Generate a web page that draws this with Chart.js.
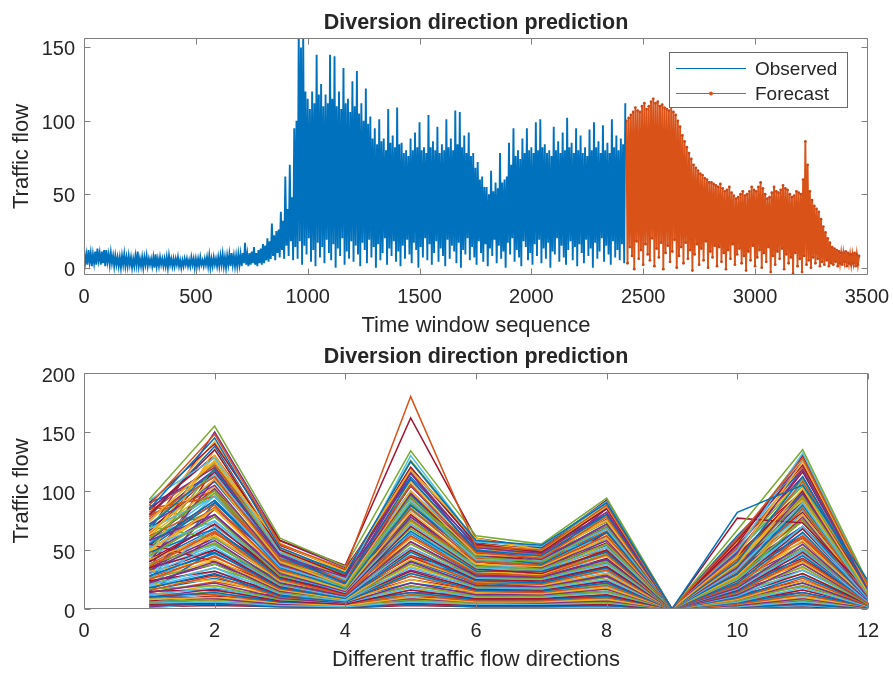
<!DOCTYPE html>
<html><head><meta charset="utf-8">
<script src="https://cdn.jsdelivr.net/npm/chart.js@4/dist/chart.umd.min.js"></script>
<style>
html,body{margin:0;padding:0;background:#fff;}
#wrapA{position:absolute;left:0;top:0;width:893px;height:338px;}
#wrapB{position:absolute;left:0;top:338px;width:893px;height:335px;}
canvas{display:block;}
</style></head><body>
<div id="wrapA"><canvas id="cA" width="893" height="338"></canvas></div>
<div id="wrapB"><canvas id="cB" width="893" height="335"></canvas></div>
<script>
// ---------- DATA ----------
const timeTicks = [0, 500, 1000, 1500, 2000, 2500, 3000, 3500];
const flowTicksTop = [0, 50, 100, 150];
const dirTicks = [0, 2, 4, 6, 8, 10, 12];
const flowTicksBottom = [0, 50, 100, 150, 200];

// Observed series: local peak readings every 10 time windows (x = 0..2420)
const obsPeaks = [
  10,9, 12,10, 9,11, 13,10, 11,12, 12,9, 10,8, 8,7, 7,8, 9,7,
  8,7, 6,8, 11,6, 7,7, 8,6, 6,7, 9,6, 7,6, 6,7, 8,6,
  6,6, 7,5, 5,6, 6,5, 7,6, 6,6, 7,5, 6,7, 8,6, 7,6,
  7,8, 9,7, 8,9, 10,8, 8,9, 9,10, 17,9, 10,11, 14,10, 12,13,
  16,15, 20,18, 30,22, 25,26, 38,32, 62,40, 70,48, 95,100, 160,150, 158,120,
  115,108, 120,112, 145,118, 125,110, 118,112, 145,115, 144,110, 120,108, 136,112, 115,106,
  127,110, 134,105, 112,100, 122,98, 103,88, 95,84, 101,86, 88,80, 108,85, 90,82,
  109,84, 85,78, 80,76, 88,80, 92,82, 99,80, 82,78, 104,82, 86,80, 96,78,
  84,80, 101,82, 88,80, 107,84, 106,82, 90,78, 92,76, 78,68, 72,60, 62,55,
  55,50, 66,52, 58,54, 78,58, 60,62, 85,70, 95,76, 80,74, 88,78, 95,80,
  82,78, 99,80, 101,82, 84,78, 80,76, 96,80, 86,78, 92,80, 102,82, 85,78,
  95,80, 90,78, 82,76, 94,80, 99,82, 86,78, 97,80, 85,78, 101,82, 90,80,
  88,84, 112
];
// Observed series: local trough readings, halfway between peaks (x = 5..2415)
const obsTroughs = [
  3,2,4,1,3,2,5,2,3,1,4,2,3,
  1,2,1,0,2,1,1,2,0,1,
  2,1,1,0,2,1,2,1,0,1,
  1,2,1,1,0,2,1,1,2,1,
  0,1,2,1,1,2,0,1,1,2,
  1,2,1,0,1,2,1,1,2,1,
  0,2,1,2,1,1,2,1,3,2,
  1,2,3,2,1,3,2,
  3,5,4,6,8,5,10,7,12,6,15,8,18,5,14,
  6,18,2,15,9,20,4,12,1,17,
  7,14,3,19,10,5,16,0,13,8,
  20,2,11,6,18,4,15,9,1,17,
  12,3,19,7,14,0,16,5,10,20,
  2,13,8,18,4,11,1,15,6,19,
  9,3,17,12,0,14,7,20,5,16,
  2,10,18,4,13,8,1,19,6,15,
  11,3,17,0,12,9,20,5,14,7,
  2,18,10,4,16,1,13,8,19,3,
  15,6,11,0,17,9,20,4,12,7,
  1,18,14,5,10,2,16,8,19,3,
  13,6,17,0,11,9,20,4,15,7,
  2,12,18,5,14,1,16,10,3,19,
  8,13,0,17,6,11,20,4,15,9,
  2,18,7,12,5,16,3
];
// Forecast series: peaks every 10 time windows from x = 2425
const fcPeaks = [
  100,102, 104,106, 109,107, 106,110, 112,108, 110,113, 115,112, 113,110, 111,109, 108,107,
  110,106, 104,100, 96,90, 86,82, 78,74, 70,68, 66,64, 63,61, 60,58, 58,57,
  56,55, 57,54, 52,53, 55,51, 49,47, 48,50, 52,49, 50,52, 55,53, 52,55,
  58,54, 50,47, 48,51, 55,52, 51,53, 56,54, 53,50, 48,49, 52,51, 50,60,
  86,70, 52,46, 42,40, 38,33, 28,24, 20,17, 14,13, 12,11, 10,10, 11,10,
  9,9, 10,9, 8
];
const fcTroughs = [
  3,14,8,-1,18,6,12,2,16,9,
  5,20,1,13,7,17,-1,10,15,4,
  11,19,0,8,14,3,17,6,12,-2,
  9,16,2,13,5,18,0,11,7,15,
  1,14,4,10,-1,12,6,16,2,9,
  13,3,8,-2,11,5,15,1,7,12,
  0,10,4,14,-3,8,2,11,6,13,
  -1,9,3,7,-4,10,1,6,-3,8,
  2,5,0,7,3,6,1,4,2,5,
  1,3,2,4,1,3,2,4,1,3,
  2,3,1,2
];
const obsStart = 0, fcStart = 2425, sampleStep = 10;

// Bottom panel: traffic flow per direction (1..12) for each sample
const directions = [1,2,3,4,5,6,7,8,9,10,11,12];
const flowSamples = [
  [85,145,52,30,125,58,54,90,0,82,105,24],
  [88,148,55,34,180,53,50,88,0,60,128,20],
  [75,125,55,32,118,60,50,87,0,45,125,19],
  [86,120,45,27,115,52,47,82,0,48,118,17],
  [93,155,60,36,134,62,55,94,0,67,135,22],
  [92,128,48,25,130,57,53,91,0,50,132,21],
  [90,140,58,37,162,60,52,92,0,55,130,18],
  [70,118,45,22,110,50,45,80,0,40,112,16],
  [78,112,42,24,105,48,43,78,0,42,108,18],
  [65,110,40,20,100,46,44,75,0,38,102,14],
  [72,105,38,21,98,50,42,72,0,35,98,15],
  [60,100,42,18,95,44,40,70,0,36,95,13],
  [68,95,36,19,92,42,41,68,0,33,90,12],
  [80,135,50,28,120,55,48,85,0,77,73,15],
  [55,92,35,17,88,45,38,65,0,30,88,14],
  [62,88,33,20,85,40,37,62,0,32,85,11],
  [50,85,32,16,82,38,36,60,0,28,80,12],
  [58,80,30,15,78,40,35,58,0,30,78,10],
  [45,78,28,18,75,36,34,55,0,26,75,11],
  [52,75,30,14,72,35,33,52,0,25,70,9],
  [40,72,27,13,70,34,30,50,0,24,68,10],
  [48,68,26,15,66,32,32,48,0,22,65,8],
  [36,65,25,12,62,30,28,46,0,20,62,9],
  [42,62,24,13,60,32,29,45,0,22,58,8],
  [33,58,22,11,57,28,27,42,0,18,55,7],
  [38,55,21,12,55,27,26,40,0,19,52,8],
  [30,52,20,10,52,26,25,38,0,17,50,6],
  [35,50,19,11,50,25,24,36,0,16,48,7],
  [28,48,18,9,48,24,22,35,0,15,45,6],
  [25,45,17,10,45,22,21,33,0,14,42,5],
  [32,42,16,8,42,23,20,30,0,15,40,6],
  [22,40,15,9,40,20,19,28,0,12,38,5],
  [26,38,14,8,38,19,18,27,0,13,36,4],
  [20,35,13,7,35,18,17,25,0,11,33,5],
  [24,32,12,8,32,17,16,24,0,12,30,4],
  [18,30,11,6,30,16,15,22,0,10,28,4],
  [16,28,10,7,28,15,14,20,0,9,26,3],
  [20,25,11,6,25,14,13,18,0,8,24,4],
  [14,22,9,5,22,12,12,17,0,8,22,3],
  [17,20,8,6,20,11,11,15,0,7,20,3],
  [12,18,8,5,18,10,10,14,0,6,18,2],
  [15,16,7,4,16,9,9,12,0,6,16,3],
  [10,14,6,5,14,8,8,11,0,5,14,2],
  [13,12,6,4,12,7,7,10,0,4,12,2],
  [8,10,5,3,10,6,6,8,0,4,10,2],
  [11,9,4,4,9,6,5,7,0,3,9,1],
  [6,8,4,3,8,5,5,6,0,3,8,1],
  [5,6,3,2,6,4,4,5,0,2,6,1],
  [4,5,3,2,5,3,3,4,0,2,5,1],
  [3,4,2,1,4,2,2,3,0,1,4,0],
  [85,95,40,20,60,30,28,50,0,30,60,10],
  [60,130,50,25,70,35,30,55,0,25,90,15],
  [40,110,45,22,115,48,42,70,0,20,50,8],
  [70,60,30,15,90,42,38,80,0,50,110,20],
  [25,70,35,18,100,50,45,60,0,35,80,12],
  [55,40,20,10,45,30,30,65,0,45,100,18],
  [15,50,25,12,40,28,26,35,0,30,70,15],
  [80,100,38,16,75,40,36,50,0,20,40,6],
  [45,135,52,26,125,55,50,75,0,40,95,10],
  [30,85,40,20,105,45,40,85,0,60,125,22],
  [50,120,48,30,90,52,48,88,0,35,75,14],
  [20,60,28,14,65,38,34,40,0,18,55,9],
  [84,130,54,33,120,56,50,85,0,58,122,20],
  [78,138,50,31,112,54,49,80,0,62,118,19],
  [82,122,52,29,116,52,46,82,0,52,120,18],
  [74,126,48,32,108,50,47,78,0,57,110,17],
  [76,118,46,28,104,49,44,76,0,54,112,18],
  [70,124,47,27,106,47,45,74,0,50,104,16],
  [72,114,44,29,100,48,42,72,0,48,106,17],
  [66,116,45,26,98,46,41,70,0,51,100,15],
  [68,108,42,27,96,45,40,68,0,46,98,16],
  [64,110,43,25,94,43,39,66,0,47,94,15],
  [62,104,40,24,90,44,38,64,0,44,92,14],
  [58,102,41,23,88,42,37,62,0,45,90,14],
  [60,98,38,24,86,40,36,60,0,42,86,13],
  [56,96,39,22,84,41,35,58,0,41,84,13],
  [54,92,36,21,80,38,34,56,0,40,82,12],
  [52,90,37,22,78,37,33,54,0,38,80,12],
  [50,86,34,20,76,36,32,52,0,37,76,11],
  [48,84,33,19,74,35,31,50,0,36,74,11],
  [47,80,32,20,70,34,30,49,0,34,70,10],
  [46,78,31,18,68,33,29,47,0,33,68,10],
  [44,74,30,17,65,31,28,45,0,32,64,10],
  [42,72,29,18,62,30,27,43,0,30,62,9],
  [40,68,28,16,60,29,26,41,0,29,60,9],
  [38,66,27,15,57,28,25,39,0,28,57,9],
  [37,62,26,16,55,27,24,38,0,27,54,8],
  [35,60,25,14,52,26,23,36,0,25,52,8],
  [34,56,24,13,49,25,22,34,0,24,49,8],
  [32,54,23,14,46,24,21,32,0,23,46,7],
  [30,50,22,12,44,23,20,30,0,21,43,7],
  [28,47,21,11,41,22,19,29,0,20,41,7],
  [27,44,20,12,38,21,18,27,0,19,38,6],
  [25,41,19,10,36,20,17,25,0,18,35,6],
  [23,38,18,10,33,19,16,23,0,16,33,6],
  [21,35,17,9,30,18,15,21,0,15,30,5],
  [19,32,16,9,28,17,14,19,0,14,27,5],
  [18,29,15,8,25,16,13,17,0,12,24,5],
  [16,26,14,8,22,15,12,15,0,11,22,4],
  [14,23,13,7,19,14,11,14,0,10,19,4],
  [12,20,12,7,16,13,10,12,0,9,16,4],
  [10,17,11,6,14,12,9,10,0,8,14,3],
  [9,15,10,6,12,11,8,9,0,7,12,3],
  [8,13,9,5,11,10,7,8,0,6,11,3],
  [7,11,8,5,10,9,6,7,0,5,9,2],
  [6,9,7,4,8,8,5,6,0,4,8,2],
  [5,8,6,4,7,7,4,5,0,3,7,2],
  [3,7,5,3,6,6,4,4,0,3,6,1],
  [2,6,4,3,5,5,3,3,0,2,5,1],
  [4,9,5,3,6,4,3,4,0,2,4,1],
  [1,5,3,2,4,3,2,2,0,1,3,0],
  [2,3,2,1,3,2,2,2,0,1,2,0],
  [90,112,40,18,64,30,26,60,0,28,70,12],
  [88,70,32,16,72,36,32,70,0,36,88,14],
  [78,142,56,30,96,46,42,66,0,30,84,10],
  [66,150,58,35,110,50,46,74,0,34,92,12],
  [60,84,46,28,126,58,52,90,0,58,130,21],
  [44,96,44,26,118,56,50,86,0,52,126,20],
  [34,120,50,24,88,52,50,92,0,48,116,19],
  [24,90,42,22,96,54,52,80,0,42,100,16],
  [18,64,34,20,84,46,44,70,0,40,96,16],
  [84,100,36,14,50,26,22,38,0,22,46,7]
];

// ---------- STYLE ----------
const FONT = "'Liberation Sans', Arial, Helvetica, sans-serif";
const TXT = '#262626';
const AXC = '#808080';
const BLUE = '#0072BD', ORANGE = '#D95319';
const cycle = ['#0072BD','#D95319','#EDB120','#7E2F8E','#77AC30','#4DBEEE','#A2142F'];

function zigzag(start, peaks, troughs) {
  const pts = [];
  peaks.forEach((p, i) => {
    pts.push({x: start + i * sampleStep, y: p});
    if (i < troughs.length) pts.push({x: start + i * sampleStep + sampleStep / 2, y: troughs[i]});
  });
  return pts;
}

const matlabAxes = {
  id: 'matlabAxes',
  afterDatasetsDraw(chart, args, o) {
    const ctx = chart.ctx, a = chart.chartArea;
    const xs = chart.scales.x, ys = chart.scales.y;
    ctx.save();
    ctx.strokeStyle = AXC; ctx.lineWidth = 1;
    ctx.beginPath();
    const L = Math.round(a.left) + 0.5, R = Math.round(a.right) - 0.5;
    const T = Math.round(a.top) + 0.5, B = Math.round(a.bottom) - 0.5;
    ctx.rect(L, T, R - L, B - T);
    const TL = 6;
    xs.ticks.forEach(t => {
      const p = Math.round(xs.getPixelForValue(t.value)) + 0.5;
      ctx.moveTo(p, B); ctx.lineTo(p, B - TL);
      ctx.moveTo(p, T); ctx.lineTo(p, T + TL);
    });
    ys.ticks.forEach(t => {
      const p = Math.round(ys.getPixelForValue(t.value)) + 0.5;
      ctx.moveTo(L, p); ctx.lineTo(L + TL, p);
      ctx.moveTo(R, p); ctx.lineTo(R - TL, p);
    });
    ctx.stroke();

    if (o.legend) {
      const lg = o.legend;
      ctx.fillStyle = '#fff';
      ctx.fillRect(lg.x, lg.y, lg.w, lg.h);
      ctx.strokeStyle = '#6a6a6a';
      ctx.strokeRect(lg.x + 0.5, lg.y + 0.5, lg.w, lg.h);
      ctx.font = '19px ' + FONT;
      ctx.textAlign = 'left'; ctx.textBaseline = 'middle';
      chart.data.datasets.forEach((ds, i) => {
        const yy = lg.y + 16.5 + i * 25;
        ctx.strokeStyle = ds.borderColor; ctx.lineWidth = 1;
        ctx.beginPath(); ctx.moveTo(lg.x + 7, yy); ctx.lineTo(lg.x + 77, yy); ctx.stroke();
        if (ds.pointRadius > 0) {
          ctx.fillStyle = ds.borderColor;
          ctx.beginPath(); ctx.arc(lg.x + 42, yy, 2, 0, Math.PI * 2); ctx.fill();
        }
        ctx.fillStyle = TXT;
        ctx.fillText(ds.label, lg.x + 86, yy + 1);
      });
    }

    ctx.fillStyle = TXT;
    ctx.textAlign = 'center'; ctx.textBaseline = 'middle';
    ctx.font = 'bold 21.5px ' + FONT;
    const cx = (a.left + a.right) / 2;
    ctx.fillText(o.title, cx, o.titleY);
    ctx.font = '22px ' + FONT;
    ctx.fillText(o.xLabel, cx, o.xLabelY);
    ctx.save();
    ctx.translate(o.yLabelX, (a.top + a.bottom) / 2);
    ctx.rotate(-Math.PI / 2);
    ctx.fillText(o.yLabel, 0, 0);
    ctx.restore();
    ctx.restore();
  }
};

function axisOpts(min, max, tickList, pad, offset, fit) {
  return {
    type: 'linear', min: min, max: max,
    grid: {display: false, drawTicks: false},
    border: {display: false},
    ticks: {font: {family: FONT, size: 20}, color: TXT, padding: pad, maxRotation: 0, autoSkip: false,
            labelOffset: offset, callback: v => String(v)},
    afterBuildTicks: s => { s.ticks = tickList.map(v => ({value: v})); },
    afterFit: s => {
      fit(s);
      s.paddingLeft = 0; s.paddingRight = 0; s.paddingTop = 0; s.paddingBottom = 0;
    }
  };
}

new Chart(document.getElementById('cA'), {
  type: 'line',
  data: {
    datasets: [
      {label: 'Observed', data: zigzag(obsStart, obsPeaks, obsTroughs), borderColor: BLUE,
       borderWidth: 1.9, pointRadius: 0, tension: 0, fill: false},
      {label: 'Forecast', data: zigzag(fcStart, fcPeaks, fcTroughs), borderColor: ORANGE,
       backgroundColor: ORANGE, borderWidth: 1.9, pointRadius: 1.4, pointBorderWidth: 0,
       pointBackgroundColor: '#C8481A', tension: 0, fill: false}
    ]
  },
  options: {
    responsive: false, animation: false, events: [],
    layout: {padding: {left: 0, right: 25, top: 38, bottom: 0}},
    plugins: {
      legend: {display: false}, tooltip: {enabled: false},
      matlabAxes: {
        title: 'Diversion direction prediction', titleY: 23,
        xLabel: 'Time window sequence', xLabelY: 326,
        yLabel: 'Traffic flow', yLabelX: 22,
        legend: {x: 669, y: 52, w: 178, h: 55}
      }
    },
    scales: {
      x: axisOpts(0, 3505, timeTicks, 10, 0, s => { s.height = 63; }),
      y: axisOpts(-5, 156.4, flowTicksTop, 9, 2.5, s => { s.width = 84; })
    }
  },
  plugins: [matlabAxes]
});

new Chart(document.getElementById('cB'), {
  type: 'line',
  data: {
    datasets: flowSamples.map((row, i) => ({
      label: 'sample ' + (i + 1),
      data: row.map((v, j) => ({x: directions[j], y: v})),
      borderColor: cycle[i % cycle.length], borderWidth: 1.5, pointRadius: 0, tension: 0, fill: false
    }))
  },
  options: {
    responsive: false, animation: false, events: [],
    layout: {padding: {left: 0, right: 25, top: 35, bottom: 0}},
    plugins: {
      legend: {display: false}, tooltip: {enabled: false},
      matlabAxes: {
        title: 'Diversion direction prediction', titleY: 19,
        xLabel: 'Different traffic flow directions', xLabelY: 322,
        yLabel: 'Traffic flow', yLabelX: 22
      }
    },
    scales: {
      x: axisOpts(0, 12, dirTicks, 10, 0, s => { s.height = 64; }),
      y: axisOpts(0, 200, flowTicksBottom, 9, 3, s => { s.width = 84; })
    }
  },
  plugins: [matlabAxes]
});
</script></body></html>
